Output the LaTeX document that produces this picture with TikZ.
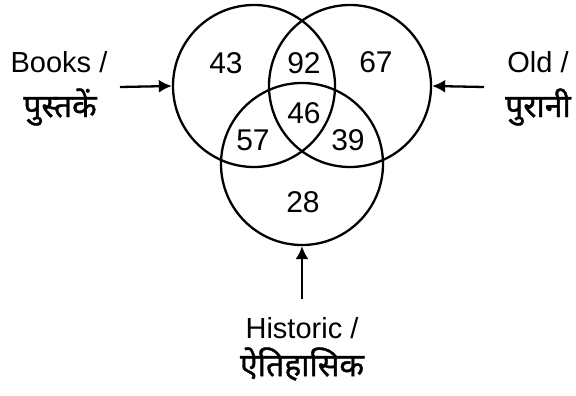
\documentclass[tikz,border=0pt]{standalone}
\usepackage{fontspec}
\setmainfont{Liberation Sans}
\newfontfamily\hindi[Script=Devanagari,FakeBold=1.2]{Noto Sans}
\usetikzlibrary{arrows.meta}
\begin{document}
\begin{tikzpicture}[x=1pt,y=-1pt,
  setc/.style={circle,draw,line width=2.3pt,minimum size=162pt,inner sep=0pt},
  num/.style={font=\fontsize{30}{30}\selectfont,inner sep=0pt},
  lbl/.style={font=\fontsize{29}{29}\selectfont,inner sep=0pt},
  hlbl/.style={font=\hindi\fontsize{32}{32}\selectfont,inner sep=0pt},
  arr/.style={line width=2.3pt,-{Latex[length=13pt,width=13pt]}}]
\useasboundingbox (0,0) rectangle (576,396);
\node[setc] (A) at (254,86) {};
\node[setc] (B) at (350,86) {};
\node[setc] (C) at (302,164) {};
\node[num] (n43) at (226,63) {43};
\node[num] (n92) at (304,63) {92};
\node[num] (n67) at (376,62) {67};
\node[num] (n46) at (304,113) {46};
\node[num] (n57) at (253,140) {57};
\node[num] (n39) at (348,140) {39};
\node[num] (n28) at (303,202) {28};
\node[lbl] (books) at (59,62) {Books /};
\node[hlbl] (booksh) at (60,107) {पुस्तकें};
\node[lbl] (old) at (538,62) {Old /};
\node[hlbl] (oldh) at (538,107) {पुरानी};
\node[lbl] (hist) at (302,328) {Historic /};
\node[hlbl] (histh) at (302,364) {ऐतिहासिक};
\coordinate (ab) at (120,87);
\coordinate (ob) at (484,87);
\coordinate (hb) at (302,299);
\draw[arr] (ab) -- (A.west);
\draw[arr] (ob) -- (B.east);
\draw[arr] (hb) -- (C.south);
\end{tikzpicture}
\end{document}
